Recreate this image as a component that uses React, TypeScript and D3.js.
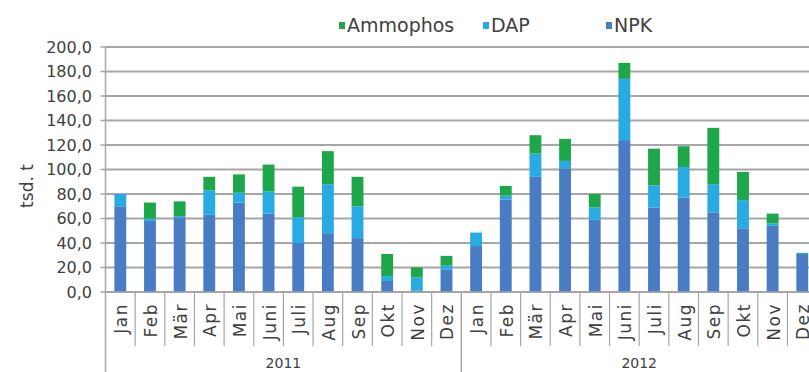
import React from "react";
import * as d3 from "d3";

const months = ["Jan", "Feb", "Mär", "Apr", "Mai", "Juni", "Juli", "Aug", "Sep", "Okt", "Nov", "Dez"];
const years = ["2011", "2012"];
const npk = [70, 58, 61, 63, 73, 64, 40, 48, 44, 9, 1, 18.5, 37.5, 75.6, 94, 101, 59, 124, 69, 77, 65, 52, 54, 31];
const dap = [10, 2, 1, 20, 8, 18, 21, 40, 26, 4, 11, 3, 11, 3, 19, 6, 10, 50, 18, 25, 23, 23, 2, 1];
const ammophos = [0, 13, 12, 11, 15, 22, 25, 27, 24, 18, 8, 8, 0, 8, 15, 18, 11, 13, 30, 17, 46, 23, 8, 0];
const yTicks = [0, 20, 40, 60, 80, 100, 120, 140, 160, 180, 200];
const seriesKeys = ["NPK", "DAP", "Ammophos"];
const colors: Record<string, string> = { NPK: "#4a7cc4", DAP: "#27abe2", Ammophos: "#1ea64a" };
const legendItems = [
  { key: "Ammophos", x: 339 },
  { key: "DAP", x: 483 },
  { key: "NPK", x: 606 },
];

const W = 809;
const H = 372;
const left = 105.5;
const step = 29.65;
const n = years.length * months.length;
const top = 47;
const bottom = 292;
const FONT = "'DejaVu Sans', sans-serif";
const TXT = "#404040";
const GRID = "#a6a6a6";

export default function App() {
  const rows = years.flatMap((yr, yi) =>
    months.map((m, mi) => {
      const i = yi * months.length + mi;
      return { idx: String(i), month: m, year: yr, NPK: npk[i], DAP: dap[i], Ammophos: ammophos[i] };
    })
  );
  const x = d3
    .scaleBand<string>()
    .domain(rows.map((r) => r.idx))
    .range([left, left + n * step])
    .paddingInner(0.6)
    .paddingOuter(0.3);
  const y = d3.scaleLinear().domain([0, 200]).range([bottom, top]);
  const stacked = d3.stack<any>().keys(seriesKeys)(rows);
  const fmt = (v: number) => v.toFixed(1).replace(".", ",");
  const bw = x.bandwidth();
  const center = (i: number) => (x(String(i)) as number) + bw / 2;

  return (
    <svg
      width={W}
      height={H}
      style={{ position: "absolute", left: 0, top: 0, background: "#fff" }}
      fontFamily={FONT}
    >
      {yTicks.map((t) => (
        <line key={"g" + t} x1={left} x2={W} y1={y(t)} y2={y(t)} stroke={GRID} strokeWidth={1.8} />
      ))}
      {yTicks.map((t) => (
        <g key={"t" + t}>
          <line x1={left - 5} x2={left} y1={y(t)} y2={y(t)} stroke={GRID} strokeWidth={1.5} />
          <text x={92} y={y(t)} dy="0.36em" textAnchor="end" fontSize={16} fill={TXT}>
            {fmt(t)}
          </text>
        </g>
      ))}
      <line x1={left} x2={left} y1={top} y2={H} stroke={GRID} strokeWidth={1.5} />
      <text
        transform={`translate(27,186) rotate(-90)`}
        textAnchor="middle"
        dominantBaseline="central"
        fontSize={17}
        fill={TXT}
      >
        tsd. t
      </text>
      {stacked.map((s) => (
        <g key={s.key} fill={colors[s.key]}>
          {s.map((d, i) => {
            const h = y(d[0]) - y(d[1]);
            if (h <= 0) return null;
            return <rect key={i} x={x(String(i))} y={y(d[1])} width={bw} height={h} />;
          })}
        </g>
      ))}
      <line x1={left} x2={W} y1={bottom} y2={bottom} stroke={GRID} strokeWidth={1.5} />
      {rows.map((r, i) =>
        i === 0 || i % months.length === 0 ? null : (
          <line
            key={"s" + i}
            x1={left + i * step}
            x2={left + i * step}
            y1={bottom}
            y2={346}
            stroke={GRID}
            strokeWidth={1.2}
          />
        )
      )}
      {years.map((yr, yi) => (
        <line
          key={"ys" + yr}
          x1={left + (yi + 1) * months.length * step}
          x2={left + (yi + 1) * months.length * step}
          y1={bottom}
          y2={H}
          stroke={GRID}
          strokeWidth={1.5}
        />
      ))}
      {rows.map((r, i) => (
        <text
          key={"m" + i}
          transform={`translate(${center(i) + 1},303) rotate(-90)`}
          textAnchor="end"
          dominantBaseline="central"
          fontSize={17}
          letterSpacing={1.5}
          fill={TXT}
        >
          {r.month}
        </text>
      ))}
      {years.map((yr, yi) => (
        <text
          key={"y" + yr}
          x={left + (yi + 0.5) * months.length * step}
          y={363}
          dy="0.36em"
          textAnchor="middle"
          fontSize={14}
          fill={TXT}
        >
          {yr}
        </text>
      ))}
      {legendItems.map((it) => (
        <g key={it.key}>
          <rect x={it.x} y={22} width={6} height={7} fill={colors[it.key]} />
          <text x={it.x + 8} y={32} fontSize={19} fill={TXT}>
            {it.key}
          </text>
        </g>
      ))}
    </svg>
  );
}
